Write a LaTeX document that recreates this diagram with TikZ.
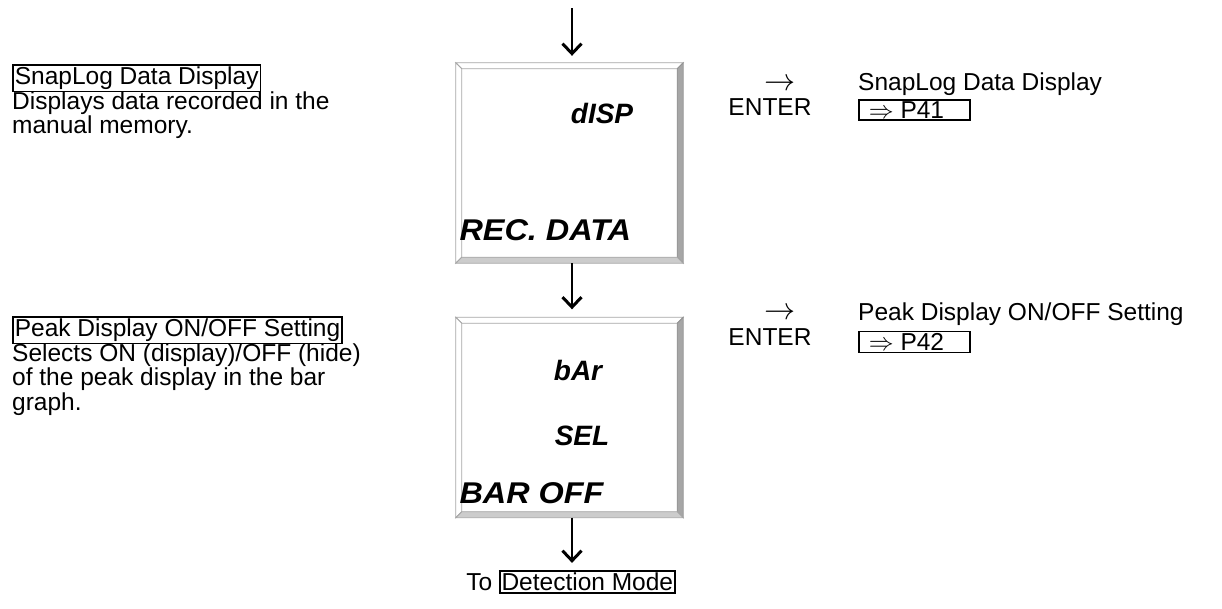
\documentclass[tikz,border=0pt]{standalone}
\usepackage{fontspec}
\setmainfont{Liberation Sans}
\newfontfamily\lcdwidefont[FakeStretch=1.08]{Liberation Sans}
\usetikzlibrary{arrows.meta}

\newcommand{\kbox}[1]{{\setlength{\fboxsep}{1pt}\setlength{\fboxrule}{1.6pt}\fbox{#1}}}
\newcommand{\bodyfont}{\fontsize{24.5}{24.5}\selectfont\setlength{\lineskiplimit}{-20pt}}
\newcommand{\lcd}{\fontsize{28}{30}\selectfont\bfseries\itshape}
\newcommand{\lcdwide}{\lcdwidefont\fontsize{30}{32}\selectfont\bfseries\itshape}
\newcommand{\bevel}[1]{%
  \path (#1.north west) coordinate (nw) (#1.north east) coordinate (ne)
        (#1.south east) coordinate (se) (#1.south west) coordinate (sw);
  \filldraw[fill=white, draw=gray!70, line width=0.8pt]
    (nw) -- (ne) -- ([shift={(-6,6)}]ne) -- ([shift={(6,6)}]nw) -- cycle;
  \filldraw[fill=white, draw=gray!70, line width=0.8pt]
    (nw) -- ([shift={(6,6)}]nw) -- ([shift={(6,-6)}]sw) -- (sw) -- cycle;
  \filldraw[fill=gray!70, draw=gray!85, line width=0.8pt]
    (ne) -- (se) -- ([shift={(-6,-6)}]se) -- ([shift={(-6,6)}]ne) -- cycle;
  \filldraw[fill=gray!40, draw=gray!70, line width=0.8pt]
    (sw) -- (se) -- ([shift={(-6,-6)}]se) -- ([shift={(6,-6)}]sw) -- cycle;
}

\begin{document}
\begin{tikzpicture}[x=1pt, y=-1pt, font=\bodyfont,
  flow/.style={line width=2.6pt, -{Straight Barb[length=10pt,width=19pt,line width=3pt]}},
  lcdbox/.style={minimum width=227pt, minimum height=200pt, inner sep=0pt}]
  \useasboundingbox (0,0) rectangle (1222,608);

  % display panels
  \node[lcdbox] (disp) at (569.5,163) {};
  \node[lcdbox] (bar) at (569.5,417.5) {};
  \bevel{disp}
  \bevel{bar}

  \node[font=\lcd] (dispa) at (602,113) {dISP};
  \node[font=\lcdwide, anchor=west] (dispb) at (456,230) {REC. DATA};
  \node[font=\lcd] (bara) at (578,370) {bAr};
  \node[font=\lcd] (barb) at (582,436) {SEL};
  \node[font=\lcdwide, anchor=west] (barc) at (456,493) {BAR OFF};

  % flow
  \coordinate (start) at (572,8);
  \node (todet) at (571,582) {To \kbox{Detection Mode}};
  \draw[flow] (start) -- ([xshift=2.5pt]disp.north) [shorten >=7pt];
  \draw[flow, shorten >=8pt] ([xshift=2.5pt]disp.south) -- ([xshift=2.5pt]bar.north);
  \draw[flow, shorten >=4pt] ([xshift=2.5pt]bar.south) -- (todet.north -| start);

  % left notes
  \node[anchor=north west, align=left, inner sep=0pt] (note1) at (12,64)
    {\kbox{SnapLog Data Display}\\Displays data recorded in the\\manual memory.};
  \node[anchor=north west, align=left, inner sep=0pt] (note2) at (12,316)
    {\kbox{Peak Display ON/OFF Setting}\\Selects ON (display)/OFF (hide)\\of the peak display in the bar\\graph.};

  % right references
  \node[scale=1.25] (arr1) at (780,85) {$\rightarrow$};
  \node (ent1) at (770,107) {ENTER};
  \node[anchor=west, inner sep=0pt] (ref1) at (858,84) {SnapLog Data Display};
  \node[anchor=west, inner sep=0pt] (pg1) at (858,110) {\kbox{\hspace{8pt}$\Rightarrow$ P41\hspace{24pt}}};

  \node[scale=1.25] (arr2) at (780,314) {$\rightarrow$};
  \node (ent2) at (770,337) {ENTER};
  \node[anchor=west, inner sep=0pt] (ref2) at (858,314) {Peak Display ON/OFF Setting};
  \node[anchor=west, inner sep=0pt] (pg2) at (858,342) {\kbox{\hspace{8pt}$\Rightarrow$ P42\hspace{24pt}}};
\end{tikzpicture}
\end{document}
